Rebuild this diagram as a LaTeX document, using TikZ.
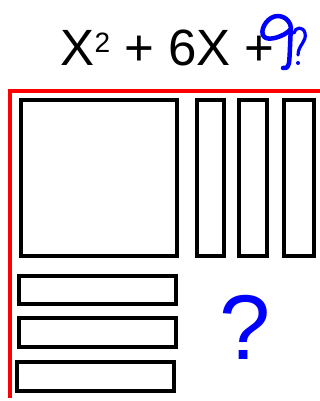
\documentclass[tikz,border=0pt]{standalone}
\usepackage{fontspec}
\setmainfont{Liberation Sans}
\begin{document}
\begin{tikzpicture}[x=1pt,y=-1pt,
  tile/.style={draw=black,line width=4pt,fill=white},
  axis/.style={draw=red,line width=4pt},
  scrib/.style={draw=blue,line width=4.5pt,line cap=round,line join=round}]
\useasboundingbox (0,0) rectangle (320,401);
% red axes
\coordinate (o) at (10.3,91.5);
\coordinate (xe) at (320,91.5);
\coordinate (ye) at (10.3,398);
\draw[axis] (ye) -- (o) -- (xe);
% tiles
\draw[tile] (21,100) rectangle (177,255.5) node[midway] (sq) {};
\draw[tile] (197,100) rectangle (224,255.5) node[midway] (x1) {};
\draw[tile] (239,100) rectangle (267,255.5) node[midway] (x2) {};
\draw[tile] (284,100) rectangle (314,255.5) node[midway] (x3) {};
\draw[tile] (19,275.5) rectangle (176,304) node[midway] (y1) {};
\draw[tile] (19,318) rectangle (176,347) node[midway] (y2) {};
\draw[tile] (17,361.5) rectangle (174,391) node[midway] (y3) {};
% question mark
\node[anchor=base,text=blue,inner sep=0pt,font=\fontsize{92}{92}\selectfont] (q) at (245,359) {?};
% expression
\node[anchor=base west,inner sep=0pt,font=\fontsize{51}{51}\selectfont] (expr) at (60.5,66)
  {X\raisebox{13pt}{\fontsize{28}{28}\selectfont 2} + 6X +};
% handwritten scribble
\draw[scrib] (291,28) .. controls (290,18) and (279,13) .. (271,18)
  .. controls (263,23) and (259,35) .. (266,38)
  .. controls (273,41) and (290,33) .. (291,28)
  .. controls (290,40) and (290,55) .. (289,63)
  .. controls (288,68) and (285,69) .. (283,68);
\draw[scrib,line width=3.2pt] (294,33) .. controls (295,27) and (303,26) .. (305,33)
  .. controls (307,42) and (298,45) .. (298,55);
\fill[blue] (298,63) circle (2pt);
\end{tikzpicture}
\end{document}
